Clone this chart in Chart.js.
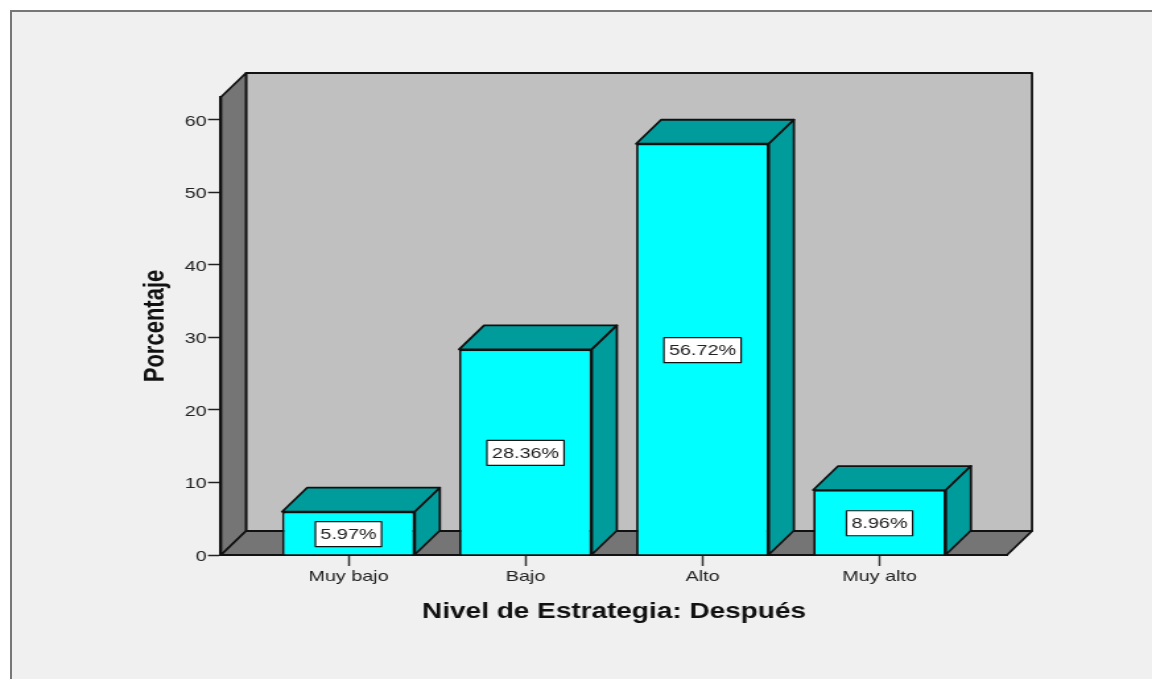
<!DOCTYPE html>
<html>
<head>
<meta charset="utf-8">
<script src="https://cdn.jsdelivr.net/npm/chart.js@4"></script>
<style>
  html, body { margin: 0; padding: 0; background: #fff; overflow: hidden; }
  #marco { position: absolute; left: 10px; top: 10px; width: 1142px; height: 669px; box-sizing: border-box;
           background: #f0f0f0; border-left: 2px solid #777; border-top: 2px solid #777; }
  #grafico { position: absolute; left: 0; top: 0; }
</style>
</head>
<body>
<div id="marco"></div>
<canvas id="grafico" width="873" height="679" style="width:1152px;height:679px"></canvas>
<script>
const categorias = ['Muy bajo', 'Bajo', 'Alto', 'Muy alto'];
const porcentajes = [5.97, 28.36, 56.72, 8.96];
const etiquetas = ['5.97%', '28.36%', '56.72%', '8.96%'];
const tituloX = 'Nivel de Estrategia: Después';
const tituloY = 'Porcentaje';

// el original esta estirado a lo ancho, se dibuja angosto y el css lo estira
const ESTIRADO = 1152 / 873;
const px = x => x / ESTIRADO;

const PROF_X = px(25);
const PROF_Y = 24;
const FUENTE = '"Liberation Sans", Arial, sans-serif';

function poligono(ctx, puntos, relleno) {
    ctx.beginPath();
    puntos.forEach((p, i) => i ? ctx.lineTo(p[0], p[1]) : ctx.moveTo(p[0], p[1]));
    ctx.closePath();
    ctx.fillStyle = relleno;
    ctx.fill();
    ctx.stroke();
}

const paredes = {
    id: 'paredes',
    beforeDraw(chart) {
        const { ctx, chartArea: a } = chart;
        ctx.save();
        ctx.lineWidth = 1.8;
        ctx.strokeStyle = '#111';
        ctx.lineJoin = 'round';
        poligono(ctx, [[a.left + PROF_X, a.top - PROF_Y], [a.right + PROF_X, a.top - PROF_Y],
            [a.right + PROF_X, a.bottom - PROF_Y], [a.left + PROF_X, a.bottom - PROF_Y]], '#c0c0c0');
        poligono(ctx, [[a.left, a.top], [a.left + PROF_X, a.top - PROF_Y],
            [a.left + PROF_X, a.bottom - PROF_Y], [a.left, a.bottom]], '#757575');
        poligono(ctx, [[a.left, a.bottom], [a.left + PROF_X, a.bottom - PROF_Y],
            [a.right + PROF_X, a.bottom - PROF_Y], [a.right, a.bottom]], '#757575');
        ctx.restore();
    }
};

const caras = {
    id: 'caras',
    afterDatasetsDraw(chart) {
        const { ctx } = chart;
        const barras = chart.getDatasetMeta(0).data;
        ctx.save();
        ctx.lineWidth = 1.8;
        ctx.strokeStyle = '#111';
        ctx.lineJoin = 'round';
        barras.forEach((b, i) => {
            const izq = b.x - b.width / 2;
            const der = b.x + b.width / 2;
            poligono(ctx, [[izq, b.y], [izq + PROF_X, b.y - PROF_Y], [der + PROF_X, b.y - PROF_Y], [der, b.y]], '#009c9c');
            poligono(ctx, [[der, b.y], [der + PROF_X, b.y - PROF_Y], [der + PROF_X, b.base - PROF_Y], [der, b.base]], '#009c9c');

            // etiqueta con el porcentaje, la caja depende del texto
            const cy = (b.y + b.base) / 2 + 1;
            ctx.font = '15px ' + FUENTE;
            const ancho = ctx.measureText(etiquetas[i]).width + px(10);
            ctx.fillStyle = '#fff';
            ctx.lineWidth = 1.2;
            ctx.fillRect(b.x - ancho / 2, cy - 12.5, ancho, 25);
            ctx.strokeRect(b.x - ancho / 2, cy - 12.5, ancho, 25);
            ctx.lineWidth = 1.8;
            ctx.fillStyle = '#222';
            ctx.textAlign = 'center';
            ctx.textBaseline = 'middle';
            ctx.fillText(etiquetas[i], b.x, cy + 0.5);
        });
        ctx.restore();
    }
};

new Chart(document.getElementById('grafico'), {
    type: 'bar',
    data: {
        datasets: [{
            data: categorias.map((c, i) => ({ x: i, y: porcentajes[i] })),
            backgroundColor: '#00ffff',
            borderColor: '#111',
            borderWidth: 1.8,
            barPercentage: 0.75,
            categoryPercentage: 1
        }]
    },
    plugins: [paredes, caras],
    options: {
        responsive: false,
        devicePixelRatio: 1,
        animation: false,
        layout: { padding: { top: 97, right: px(145), left: 0, bottom: 0 } },
        plugins: { legend: { display: false }, tooltip: { enabled: false } },
        scales: {
            x: {
                type: 'linear',
                offset: false,
                min: -0.72,
                max: 3.72,
                afterFit(scale) { scale.height = 124; },
                afterBuildTicks(scale) { scale.ticks = categorias.map((c, i) => ({ value: i })); },
                border: { color: '#111', width: 2 },
                grid: { offset: false, drawOnChartArea: false, tickLength: 11, tickColor: '#333', tickWidth: 1.5 },
                ticks: {
                    autoSkip: false,
                    maxRotation: 0,
                    padding: 2,
                    color: '#222',
                    font: { family: FUENTE, size: 15 },
                    callback: value => categorias[value]
                },
                title: {
                    display: true,
                    text: tituloX,
                    color: '#111',
                    font: { family: FUENTE, size: 21.2, weight: 'bold' },
                    padding: { top: 0, bottom: 54 }
                }
            },
            y: {
                min: 0,
                max: 63.17,
                afterFit(scale) { scale.width = px(221); },
                border: { color: '#111', width: 2 },
                grid: { drawOnChartArea: false, tickLength: px(13), tickColor: '#222', tickWidth: 1.5 },
                ticks: {
                    stepSize: 10,
                    includeBounds: false,
                    padding: 1,
                    labelOffset: 1.5,
                    color: '#222',
                    font: { family: FUENTE, size: 15 }
                },
                title: {
                    display: true,
                    text: tituloY,
                    color: '#111',
                    font: { family: FUENTE, size: 22, weight: 'bold' },
                    padding: { top: 104.5, bottom: 0 }
                }
            }
        }
    }
});
</script>
</body>
</html>
